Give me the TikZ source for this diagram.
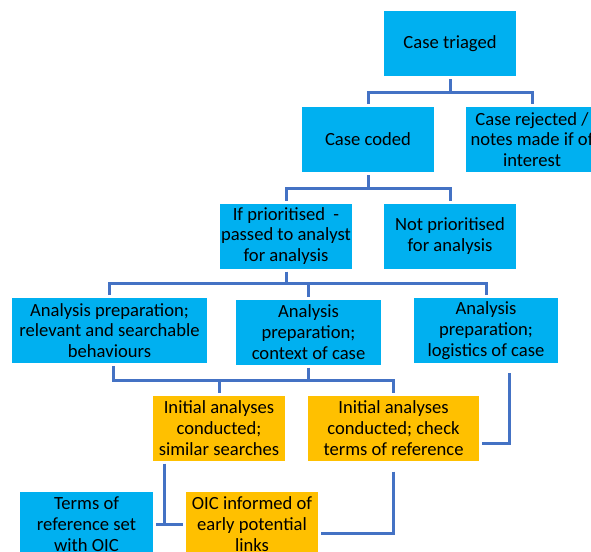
\documentclass[tikz,border=0pt]{standalone}
\usepackage{fontspec}
\setmainfont{Carlito}
\usetikzlibrary{positioning}
\definecolor{boxBlue}{HTML}{00B0F0}
\definecolor{boxOrange}{HTML}{FFC000}
\definecolor{linkBlue}{HTML}{4472C4}
\tikzset{
    every node/.style={font=\fontsize{18.6}{20.8}\selectfont, align=center}, % text in every box
    box/.style={inner sep=0pt, outer sep=3pt, minimum height=65pt}, % sets the size of each box
    blueBox/.style={box, fill=boxBlue},
    orangeBox/.style={box, fill=boxOrange},
    link/.style={draw=linkBlue, line width=3pt}, % the elbow connectors
}
\begin{document}
\begin{tikzpicture}[
                                x=1pt, y=-1pt,
                                styleWide/.style={minimum width=132pt},
                                node distance=164pt,
                            ]
                            \useasboundingbox (0,0) rectangle (591,551);
                            \fill[white] (0,0) rectangle (591,551);
                            \clip (0,0) rectangle (591,551);
                            \node[blueBox, styleWide] (triaged) at (450,43.5) {Case triaged};
                            \node[blueBox, styleWide] (coded) at (368,139.5) {Case coded};
                            \node[blueBox, styleWide, right of=coded] (rejected) {Case rejected /\\notes made if of\\interest};
                            \node[blueBox, styleWide] (prio) at (286,236) {If prioritised\ \ -\\passed to analyst\\for analysis};
                            \node[blueBox, styleWide, right of=prio] (notprio) {Not prioritised\\for analysis};
                            \node[blueBox, minimum width=195pt] (ap1) at (109.5,330.5) {Analysis preparation;\\relevant and searchable\\behaviours};
                            \node[blueBox, minimum width=145pt] (ap2) at (308.5,332) {Analysis\\preparation;\\context of case};
                            \node[blueBox, minimum width=144pt] (ap3) at (486,330.5) {Analysis\\preparation;\\logistics of case};
                            \node[orangeBox, styleWide] (ia1) at (219,428) {Initial analyses\\conducted;\\similar searches};
                            \node[orangeBox, minimum width=171pt] (ia2) at (393.5,428) {Initial analyses\\conducted; check\\terms of reference};
                            \node[blueBox, minimum width=133pt] (tor) at (86.5,524) {Terms of\\reference set\\with OIC};
                            \node[orangeBox, styleWide] (oic) at (252,524) {OIC informed of\\early potential\\links};
                            \draw[link]
                            (triaged.south) -- ++(0,13) coordinate (split1)
                            (coded.north) |- (split1) -| (rejected.north)
                            (coded.south) -- ++(0,13) coordinate (split2)
                            (prio.north) |- (split2) -| (notprio.north)
                            (prio.south) -- ++(0,12) coordinate (split3)
                            (ap1.north) |- (split3) -| (ap3.north)
                            (ap2.north) -- (ap2.north |- split3)
                            ([xshift=4pt]ap1.south) -- ++(0,14) coordinate (split4) -| (ia2.north)
                            (ap2.south) -- (ap2.south |- split4)
                            (ia1.north) -- (ia1.north |- split4)
                            ([xshift=23pt, yshift=-7pt]ap3.south) |- ([yshift=-15pt]ia2.east)
                            ([xshift=-55pt]ia1.south) -- ([xshift=-55pt]ia1.south |- tor.east)
                            (tor.east) -- (oic.west)
                            ([yshift=-8pt]ia2.south) |- ([yshift=-9pt]oic.east);
                        \end{tikzpicture}
\end{document}
